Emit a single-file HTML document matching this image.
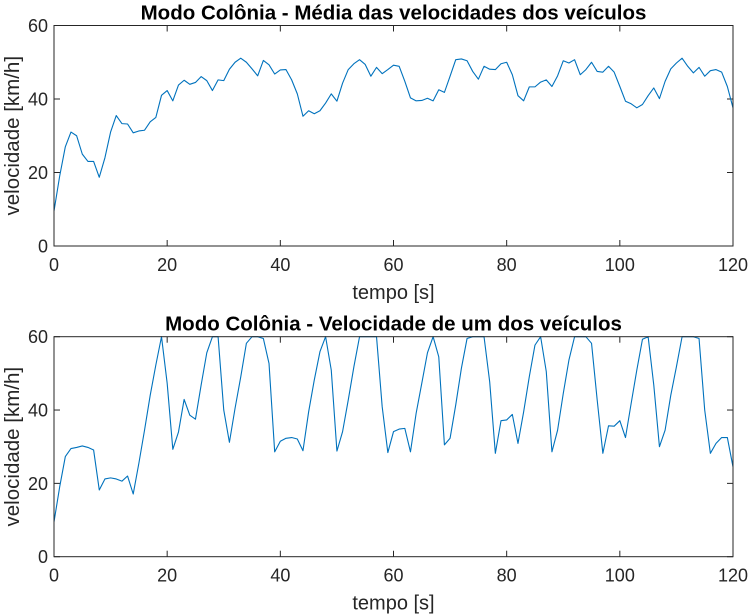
<!DOCTYPE html>
<html><head><meta charset="utf-8"><style>
html,body{margin:0;padding:0;background:#fff;}
svg{display:block;font-family:"Liberation Sans",Arial,sans-serif;}
</style></head><body>
<svg id="c" width="749" height="616" viewBox="0 0 749 616" xmlns="http://www.w3.org/2000/svg"></svg>
<script>
const timeSeconds = Array.from({length:121},(_,i)=>i);
const avgSpeed = [9.5,19,27,31,30,25,23,23,18.7,24,31,35.5,33.3,33.2,30.8,31.3,31.5,33.8,35,41,42.3,39.5,43.8,45.1,44,44.5,46.1,45,42.3,45.2,45,48.1,50,51.1,50,48.2,46.3,50.5,49.3,46.8,47.9,48,45.2,41.4,35.3,36.8,36,36.8,38.9,41.4,39.4,44.3,48,49.6,50.7,49.4,46.2,48.6,46.9,48,49.2,48.9,44.8,40.3,39.5,39.6,40.2,39.5,42.5,41.8,46.2,50.7,50.9,50.4,47.5,45.4,48.9,48.1,48,49.6,50,46.6,40.9,39.5,43.3,43.3,44.6,45.2,43.4,46.3,50.4,49.8,50.7,46.6,48,50,47.5,47.3,48.9,47.3,43.4,39.4,38.7,37.6,38.5,40.9,43,40.1,44.8,48.2,49.8,51.1,48.9,47.1,48.6,46.2,47.7,48,47.3,43.4,37.6];
const vehSpeed = [9.5,19,27.3,29.5,29.8,30.2,29.8,29.1,18.2,21.2,21.5,21.2,20.6,22,17.1,25.5,34.5,44,52.3,60,47.3,29.3,34,42.9,38.6,37.5,46.8,55.6,60,60,40,31.2,40.5,49,58.2,60,60,59.5,52.7,28.6,31.5,32.3,32.5,32.1,28.9,39.5,48.2,55.9,60,50.9,28.8,34.1,42.7,51.8,60,60,60,60,40.9,28.4,34.1,34.8,35,28.6,39.1,47.3,55.6,60,54.5,30.5,32.3,41.4,51.4,59.5,60,60,60,47.7,28.2,37.1,37.3,38.8,30.9,39.5,49.1,57.7,60,50.5,28.6,34.5,44.5,53.6,60,60,60,58.2,42.7,28.2,35.7,35.6,37.1,32.5,41.8,50.9,59.3,60,46.8,30,34.5,44,51.8,60,60,60,59.5,40,28.2,30.9,32.5,32.5,24.5];
const xTicks = [0,20,40,60,80,100,120];
const yTicks = [0,20,40,60];
const titles = ["Modo Colônia - Média das velocidades dos veículos","Modo Colônia - Velocidade de um dos veículos"];

const NS="http://www.w3.org/2000/svg";
const svg=document.getElementById('c');
function mk(tag,attrs,parent){const e=document.createElementNS(NS,tag);for(const k in attrs)e.setAttribute(k,attrs[k]);(parent||svg).appendChild(e);return e;}
const X0=54,X1=733;
function xs(v){return X0+(v-0)/(120-0)*(X1-X0);}
function panel(top,bottom,data,title,idx){
  const ys=v=>bottom-(v/60)*(bottom-top);
  const g=mk('g',{});
  
  
  xTicks.forEach(t=>{
    const x=xs(t);
    const l1=mk('line',{x1:x,x2:x,y1:bottom,y2:bottom-6,stroke:'#262626','stroke-width':1},g);
    
    mk('line',{x1:x,x2:x,y1:top,y2:top+6,stroke:'#262626','stroke-width':1},g);
    const tx=mk('text',{x:x,y:bottom+25,'text-anchor':'middle','font-size':18,fill:'#262626'},g);
    tx.textContent=t;
    
  });
  yTicks.forEach(t=>{
    const y=ys(t);
    mk('line',{x1:X0,x2:X0+6,y1:y,y2:y,stroke:'#262626','stroke-width':1},g);
    mk('line',{x1:X1,x2:X1-6,y1:y,y2:y,stroke:'#262626','stroke-width':1},g);
    const tx=mk('text',{x:48,y:y+6.5,'text-anchor':'end','font-size':18,fill:'#262626'},g);
    tx.textContent=t;
    
  });
  const pts=data.map((v,i)=>xs(timeSeconds[i]).toFixed(2)+','+ys(v).toFixed(2)).join(' ');
  const line=mk('polyline',{points:pts,fill:'none',stroke:'#0072BD','stroke-width':1.1,'stroke-linejoin':'round'},g);
  
  const fr=mk('rect',{x:X0,y:top,width:X1-X0,height:bottom-top,fill:'none',stroke:'#262626','stroke-width':1},g);
  
  const ti=mk('text',{x:(X0+X1)/2,y:top-6,'text-anchor':'middle','font-size':20.5,'font-weight':'bold',fill:'#000'},g);
  ti.textContent=title;
  
  const xl=mk('text',{x:(X0+X1)/2,y:bottom+53,'text-anchor':'middle','font-size':20,fill:'#262626'},g);
  xl.textContent='tempo [s]';
  
  const cy=(top+bottom)/2;
  const yl=mk('text',{x:19,y:cy,'text-anchor':'middle','font-size':20.5,fill:'#262626',transform:'rotate(-90 19 '+cy+')'},g);
  yl.textContent='velocidade [km/h]';
  
}
panel(25.5,246,avgSpeed,titles[0],0);
panel(336.7,556.7,vehSpeed,titles[1],1);
</script>
</body></html>
